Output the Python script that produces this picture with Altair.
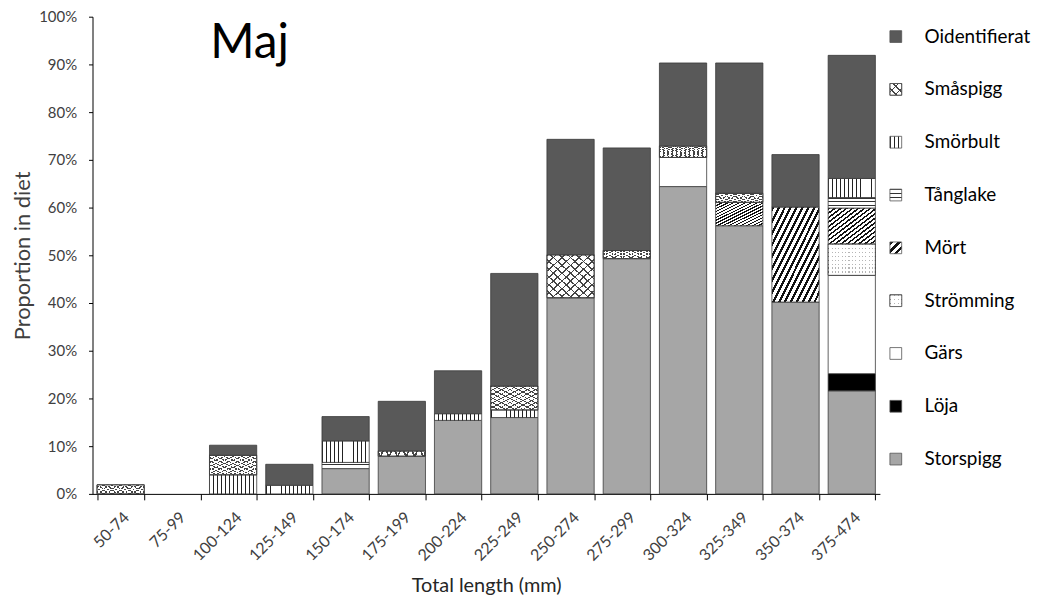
import altair as alt
import pandas as pd

# ---------------- data (percent of diet) ----------------
sizes = ["50-74", "75-99", "100-124", "125-149", "150-174", "175-199", "200-224",
         "225-249", "250-274", "275-299", "300-324", "325-349", "350-374", "375-474"]

# stack order bottom -> top
prey_order = ["Storspigg", "Löja", "Gärs", "Strömming", "Mört", "Tånglake",
              "Smörbult", "Småspigg", "Oidentifierat"]
# legend order top -> bottom
legend_order = ["Oidentifierat", "Småspigg", "Smörbult", "Tånglake", "Mört",
                "Strömming", "Gärs", "Löja", "Storspigg"]

storspigg = [0, 0, 0, 0, 5.3, 7.9, 15.4, 16.0, 41.1, 49.3, 64.4, 56.2, 40.2, 21.6]
loja      = [0, 0, 0, 0, 0, 0, 0, 0, 0, 0, 0, 0, 0, 3.6]
gars      = [0, 0, 0, 0, 0, 0, 0, 0, 0, 0, 6.1, 0, 0, 20.6]
stromming = [0, 0, 0, 0, 0, 0, 0, 0, 0, 0, 0, 0, 0, 6.6]
mort      = [0, 0, 0, 0, 0, 0, 0, 0, 0, 0, 0, 4.9, 19.9, 7.5]
tanglake  = [0, 0, 0, 0, 1.3, 0, 0, 0, 0, 0, 0, 0, 0, 2.2]
smorbult  = [0, 0, 4.0, 1.8, 4.5, 0, 1.4, 1.6, 0, 0, 0, 0, 0, 4.0]
smaspigg  = [1.9, 0, 4.1, 0, 0, 1.1, 0, 5.0, 9.0, 1.7, 2.4, 1.9, 0, 0]
oid       = [0, 0, 2.1, 4.4, 5.1, 10.4, 9.0, 23.6, 24.2, 21.5, 17.4, 27.3, 11.0, 25.8]

series = {
    "Storspigg": storspigg, "Löja": loja, "Gärs": gars, "Strömming": stromming,
    "Mört": mort, "Tånglake": tanglake, "Smörbult": smorbult,
    "Småspigg": smaspigg, "Oidentifierat": oid,
}
y_ticks = list(range(0, 101, 10))
panel_title = "Maj"
x_title = "Total length (mm)"
y_title = "Proportion in diet"

rows = []
for i, p in enumerate(prey_order):
    for s, v in zip(sizes, series[p]):
        rows.append({"size": s, "prey": p, "order": i, "value": v})
df = pd.DataFrame(rows)

FONT = "Lato"
EDGE = "#3a3a3a"
CLEAR = "rgba(255,255,255,0)"


def stripes(bg, fg, n, duty, x1, y1, x2, y2):
    stops = []
    for i in range(n):
        a, b, c = i / n, (i + duty) / n, (i + 1) / n
        stops += [{"offset": a, "color": fg}, {"offset": b, "color": fg},
                  {"offset": b, "color": bg}, {"offset": c, "color": bg}]
    return {"gradient": "linear", "x1": x1, "y1": y1, "x2": x2, "y2": y2, "stops": stops}


def fills(p, small=False):
    if p == "Storspigg":
        return ["#a6a6a6"]
    if p == "Oidentifierat":
        return ["#595959"]
    if p == "Löja":
        return ["#000000"]
    if p == "Gärs":
        return ["#ffffff"]
    if p == "Smörbult":
        return [stripes("#ffffff", "#222222", 3 if small else 12, 0.22, 0, 0, 1, 0)]
    if p == "Tånglake":
        return [stripes("#ffffff", "#333333", 3, 0.28, 0, 0, 0, 1)]
    if p == "Mört":
        return [stripes("#ffffff", "#111111", 3 if small else 16, 0.42, 0, 0, 1, 1)]
    if p == "Småspigg":
        n = 3 if small else 11
        return [stripes("#ffffff", "#444444", n, 0.2, 0, 0, 1, 1),
                stripes(CLEAR, "#444444", n, 0.2, 1, 0, 0, 1)]
    if p == "Strömming":
        return [stripes("#ffffff", "#b5b5b5", 3 if small else 14, 0.35, 0, 0, 1, 0),
                stripes("#ffffff", CLEAR, 3 if small else 8, 0.4, 0, 0, 0, 1)]
    return ["#cccccc"]


x_enc = alt.X(
    "size:N",
    sort=sizes,
    scale=alt.Scale(domain=sizes, paddingInner=0.16, paddingOuter=0.08),
    axis=alt.Axis(
        title=x_title, labelAngle=-45, tickBand="extent", tickSize=6,
        domainColor="#000000", tickColor="#000000", labelColor="#404040",
        labelFont=FONT, labelFontSize=16, labelPadding=9,
        titleFont=FONT, titleFontSize=20, titleFontWeight="normal",
        titleColor="#262626", titlePadding=12,
    ),
)
y_enc = alt.Y(
    "y0:Q",
    scale=alt.Scale(domain=[0, 100], nice=False),
    axis=alt.Axis(
        title=y_title, values=y_ticks, labelExpr="datum.value + '%'", grid=False,
        tickSize=4, domainColor="#000000", tickColor="#000000", labelColor="#404040",
        labelFont=FONT, labelFontSize=15, labelPadding=12,
        titleFont=FONT, titleFontSize=22, titleFontWeight="normal",
        titleColor="#404040", titlePadding=4,
    ),
)

base = (
    alt.Chart(df)
    .transform_filter("datum.value > 0")
    .transform_stack(stack="value", groupby=["size"], as_=["y0", "y1"],
                     sort=[alt.SortField("order", "ascending")])
)

layers = []
for p in prey_order:
    for f in fills(p):
        layers.append(
            base.transform_filter(alt.datum.prey == p)
            .mark_bar(fill=f, stroke=EDGE, strokeWidth=0.8)
            .encode(x=x_enc, y=y_enc, y2="y1:Q")
        )

title_layer = (
    alt.Chart(pd.DataFrame({"t": [panel_title]}))
    .mark_text(font=FONT, fontSize=48, color="#000000", align="center", baseline="alphabetic")
    .encode(text="t:N", x=alt.value(158), y=alt.value(42))
)

main = alt.layer(*layers, title_layer).properties(width=792, height=480)

# ---------------- custom legend ----------------
leg_df = pd.DataFrame({"prey": legend_order})
leg_y = alt.Y("prey:N", axis=None,
              scale=alt.Scale(type="point", domain=legend_order, range=[20, 445], padding=0))
leg_layers = []
for p in legend_order:
    for f in fills(p, small=True):
        leg_layers.append(
            alt.Chart(leg_df).transform_filter(alt.datum.prey == p)
            .mark_square(size=140, filled=True, fill=f, stroke="#555555",
                         strokeWidth=0.8, opacity=1)
            .encode(x=alt.value(8), y=leg_y)
        )
leg_layers.append(
    alt.Chart(leg_df)
    .mark_text(font=FONT, fontSize=19, color="#000000", align="left", baseline="middle")
    .encode(x=alt.value(37), y=leg_y, text="prey:N")
)
legend = alt.layer(*leg_layers).properties(width=138, height=480)

chart = (
    alt.hconcat(main, legend, spacing=8)
    .configure_view(stroke=None)
    .properties(background="#ffffff",
                padding={"left": 3, "top": 0, "right": 0, "bottom": 5})
)

chart.save("out.html", embed_options={"renderer": "svg", "actions": False})
